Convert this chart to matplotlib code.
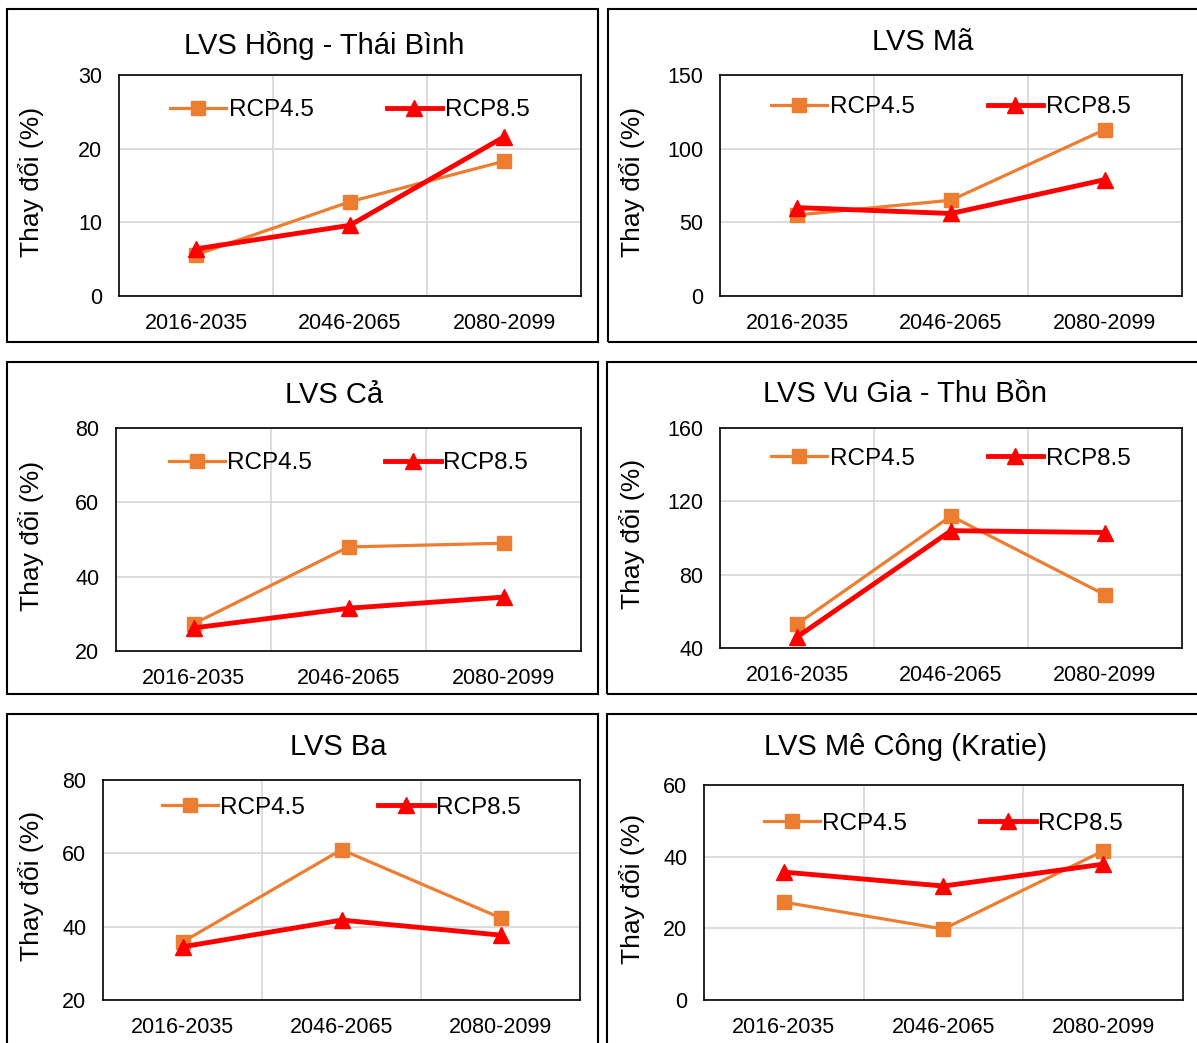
import matplotlib
matplotlib.use("Agg")
import matplotlib.pyplot as plt
from matplotlib.patches import Rectangle

plt.rcParams['font.family'] = ['Liberation Sans', 'DejaVu Sans']

# data
periods = ['2016-2035', '2046-2065', '2080-2099']
titles = ['LVS Hồng - Thái Bình', 'LVS Mã', 'LVS Cả',
          'LVS Vu Gia - Thu Bồn', 'LVS Ba', 'LVS Mê Công (Kratie)']
rcp45 = [
    [5.6, 12.8, 18.3],
    [55, 65, 113],
    [27.3, 48, 49],
    [53, 112, 69],
    [35.8, 61, 42.4],
    [27.3, 19.8, 41.6],
]
rcp85 = [
    [6.4, 9.6, 21.6],
    [60, 56, 79],
    [26.2, 31.5, 34.5],
    [46, 104, 103],
    [34.5, 41.8, 37.7],
    [35.7, 31.8, 37.9],
]
y_limits = [(0, 30), (0, 150), (20, 80), (40, 160), (20, 80), (0, 60)]
y_steps = [10, 50, 20, 40, 20, 20]
ylabel = 'Thay đổi (%)'

W, H = 1197, 1043
fig = plt.figure(figsize=(W / 100, H / 100), dpi=100)

# layout in pixels
plot_boxes = [(119, 75, 581, 296), (720, 75, 1182, 296),
              (116, 428, 581, 651), (720, 428, 1182, 648),
              (103, 780, 580, 1000), (704, 785, 1183, 1000)]
frames = [(7, 9, 598, 342), (608, 9, 1203, 342),
          (7, 362, 598, 694), (607, 362, 1203, 694),
          (7, 714, 598, 1048), (607, 714, 1203, 1048)]
title_pos = [(324, 45), (923, 42), (334, 395), (905, 394), (338, 747), (906, 747)]
ylabel_x = [31, 632, 31, 632, 31, 632]
legend_y = [0.84, 0.855, 0.843, 0.86, 0.873, 0.82]

orange = '#ED7D31'
red = '#FF0000'

for i in range(6):
    fx0, fy0, fx1, fy1 = frames[i]
    fig.patches.append(Rectangle((fx0 / W, 1 - fy1 / H), (fx1 - fx0) / W, (fy1 - fy0) / H,
                                 transform=fig.transFigure, fill=False,
                                 edgecolor='black', linewidth=1.5))
    x0, y0, x1, y1 = plot_boxes[i]
    ax = fig.add_axes([x0 / W, 1 - y1 / H, (x1 - x0) / W, (y1 - y0) / H])
    xs = range(len(periods))
    ax.plot(xs, rcp45[i], color=orange, lw=2.3, marker='s', ms=9.5, label='RCP4.5', zorder=3)
    ax.plot(xs, rcp85[i], color=red, lw=3.5, marker='^', ms=11, label='RCP8.5', zorder=4)
    lo, hi = y_limits[i]
    ax.set_ylim(lo, hi)
    ax.set_yticks(range(lo, hi + 1, y_steps[i]))
    ax.set_xlim(-0.5, 2.5)
    ax.set_xticks(list(xs))
    ax.set_xticklabels(periods)
    ax.set_xticks([0.5, 1.5], minor=True)
    ax.grid(True, axis='y', which='major', color='#D9D9D9', lw=1.3)
    ax.grid(True, axis='x', which='minor', color='#D9D9D9', lw=1.3)
    ax.set_axisbelow(True)
    ax.tick_params(axis='both', which='both', length=0, labelsize=15.5)
    ax.tick_params(axis='y', pad=12)
    ax.tick_params(axis='x', pad=12)
    for s in ax.spines.values():
        s.set_linewidth(1.2)
        s.set_color('black')
    ax.legend(loc='center', bbox_to_anchor=(0.5, legend_y[i]), ncol=2, frameon=False,
              fontsize=17.5, handlelength=2.3, handletextpad=0.1, columnspacing=3.0,
              borderpad=0)
    tx, ty = title_pos[i]
    fig.text(tx / W, 1 - ty / H, titles[i], ha='center', va='center', fontsize=21)
    fig.text(ylabel_x[i] / W, 1 - ((y0 + y1) / 2 - 4) / H, ylabel, rotation=90,
             ha='center', va='center', fontsize=19)

fig.savefig('out.png', dpi=100)
